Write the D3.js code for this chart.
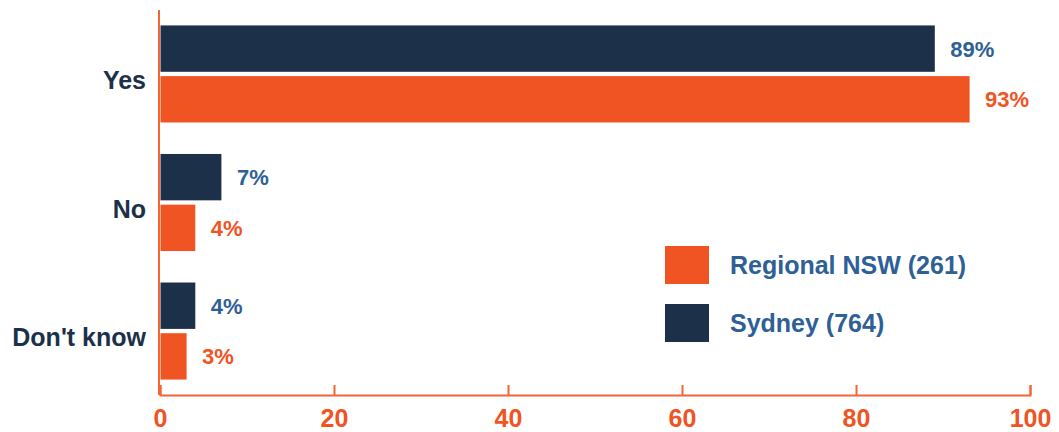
<!DOCTYPE html>
<html>
<head>
<meta charset="utf-8">
<script src="https://cdn.jsdelivr.net/npm/d3@7/dist/d3.min.js"></script>
<style>
  html, body { margin: 0; padding: 0; background: #fff; }
  svg { display: block; font-family: Arial, "Liberation Sans", sans-serif; font-weight: bold; }
</style>
</head>
<body>
<svg id="chart" width="1059" height="432"></svg>
<script>
const categories = ["Yes", "No", "Don't know"];
const seriesNames = ["Sydney (764)", "Regional NSW (261)"];
const sydney = [89, 7, 4];
const regional = [93, 4, 3];
const xTicks = [0, 20, 40, 60, 80, 100];

(function () {
const ORANGE = "#F05423";
const NAVY = "#1C3149";
const BLUE = "#2E6096";
const AXIS = "#F26535";

const svg = d3.select("#chart");
const mLeft = 160, mRight = 1030, mTop = 10, mBottom = 395;

const x = d3.scaleLinear().domain([0, 100]).range([mLeft, mRight]);
const y = d3.scaleBand().domain(categories).range([mTop, mBottom])
  .paddingInner(0.245).paddingOuter(0.12);
const inner = d3.scaleBand().domain(["sydney", "regional"])
  .range([0, y.bandwidth()]).paddingInner(0.085);

const series = [
  { key: "sydney", values: sydney, fill: NAVY, labelColor: BLUE },
  { key: "regional", values: regional, fill: ORANGE, labelColor: ORANGE }
];

series.forEach(s => {
  const g = svg.append("g");
  g.selectAll("rect").data(categories).join("rect")
    .attr("x", x(0) + 0.5)
    .attr("y", c => y(c) + inner(s.key))
    .attr("width", (c, i) => x(s.values[i]) - x(0))
    .attr("height", inner.bandwidth())
    .attr("fill", s.fill);
  g.selectAll("text").data(categories).join("text")
    .attr("x", (c, i) => x(s.values[i]) + 16)
    .attr("y", c => y(c) + inner(s.key) + inner.bandwidth() / 2)
    .attr("dy", "0.36em")
    .attr("font-size", 22)
    .attr("fill", s.labelColor)
    .text((c, i) => s.values[i] + "%");
});

// X axis
const xAxis = d3.axisBottom(x).tickValues(xTicks).tickSizeInner(-10).tickSizeOuter(-10).tickPadding(14);
const gx = svg.append("g").attr("transform", `translate(0,${mBottom})`).call(xAxis);
gx.select(".domain").attr("stroke", AXIS).attr("stroke-width", 2);
gx.selectAll(".tick line").attr("stroke", AXIS).attr("stroke-width", 2);
gx.selectAll(".tick text").attr("fill", ORANGE).attr("font-size", 25)
  .attr("font-family", "Arial, 'Liberation Sans', sans-serif").attr("font-weight", "bold")
  .attr("y", 32).attr("dy", 0);

// Y axis
const yAxis = d3.axisLeft(y).tickSize(0).tickPadding(13);
const gy = svg.append("g").attr("transform", `translate(${mLeft - 1},0)`).call(yAxis);
gy.select(".domain").attr("stroke", AXIS).attr("stroke-width", 2)
  .attr("d", `M0,${mTop}V${mBottom}`);
gy.selectAll(".tick text").attr("fill", NAVY).attr("font-size", 25)
  .attr("font-family", "Arial, 'Liberation Sans', sans-serif").attr("font-weight", "bold")
  .attr("dy", "0.6em");

// Legend
const legendItems = [
  { name: seriesNames[1], fill: ORANGE },
  { name: seriesNames[0], fill: NAVY }
];
const lg = svg.append("g").attr("transform", "translate(665,246)");
legendItems.forEach((d, i) => {
  const row = lg.append("g").attr("transform", `translate(0,${i * 58})`);
  row.append("rect").attr("width", 44).attr("height", 38).attr("fill", d.fill);
  row.append("text").attr("x", 65).attr("y", 19).attr("dy", "0.36em")
    .attr("font-size", 25).attr("fill", BLUE).text(d.name);
});
})();
</script>
</body>
</html>
